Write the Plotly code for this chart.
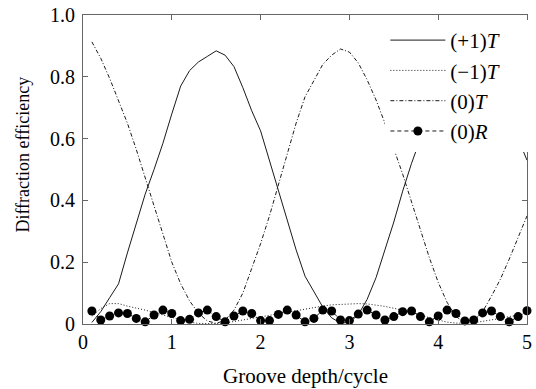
import plotly.graph_objects as go

depth = [round(0.1 * i, 1) for i in range(1, 51)]

t_plus1 = [0.005, 0.04, 0.085, 0.13, 0.23, 0.325, 0.42, 0.50, 0.585, 0.68,
           0.77, 0.82, 0.848, 0.866, 0.884, 0.87, 0.833, 0.765, 0.69, 0.625,
           0.53, 0.435, 0.34, 0.24, 0.155, 0.105, 0.055, 0.02, 0.003, 0.005,
           0.03, 0.08, 0.15, 0.24, 0.33, 0.43, 0.52, 0.60, 0.68, 0.75,
           0.81, 0.85, 0.87, 0.88, 0.86, 0.82, 0.75, 0.68, 0.60, 0.53]

t_minus1 = [0.025, 0.05, 0.066, 0.066, 0.058, 0.052, 0.045, 0.037, 0.029, 0.02,
            0.012, 0.006, 0.002, 0.001, 0.001, 0.003, 0.008, 0.013, 0.019, 0.025,
            0.03, 0.035, 0.04, 0.045, 0.05, 0.054, 0.058, 0.062, 0.064, 0.066,
            0.066, 0.065, 0.062, 0.057, 0.051, 0.044, 0.037, 0.03, 0.02, 0.012,
            0.006, 0.003, 0.002, 0.004, 0.008, 0.013, 0.018, 0.024, 0.029, 0.034]

t_zero = [0.913, 0.86, 0.795, 0.725, 0.65, 0.565, 0.475, 0.38, 0.29, 0.20,
          0.13, 0.075, 0.035, 0.01, 0.002, 0.012, 0.045, 0.10, 0.18, 0.26,
          0.35, 0.45, 0.55, 0.65, 0.735, 0.79, 0.84, 0.87, 0.89, 0.88,
          0.845, 0.79, 0.725, 0.65, 0.57, 0.485, 0.395, 0.305, 0.215, 0.135,
          0.07, 0.025, 0.003, 0.01, 0.04, 0.09, 0.145, 0.21, 0.28, 0.35]

r_zero = [0.042, 0.013, 0.026, 0.036, 0.034, 0.018, 0.007, 0.029, 0.045, 0.034,
          0.011, 0.015, 0.036, 0.045, 0.024, 0.007, 0.026, 0.042, 0.034, 0.011,
          0.011, 0.031, 0.045, 0.029, 0.007, 0.018, 0.045, 0.042, 0.013, 0.011,
          0.032, 0.045, 0.029, 0.013, 0.024, 0.040, 0.042, 0.024, 0.007, 0.026,
          0.045, 0.034, 0.010, 0.013, 0.036, 0.042, 0.024, 0.007, 0.024, 0.043]

x_ticks = [0, 1, 2, 3, 4, 5]
y_ticks = [0, 0.2, 0.4, 0.6, 0.8, 1.0]
y_tick_text = ["0", "0.2", "0.4", "0.6", "0.8", "1.0"]

FONT = "Liberation Serif"
LC = "#1a1a1a"
PAD = "&nbsp;" * 5

fig = go.Figure()
fig.add_trace(go.Scatter(x=depth, y=t_plus1, mode="lines", name="(+1)<i>T</i>" + PAD,
                         line=dict(color=LC, width=1)))
fig.add_trace(go.Scatter(x=depth, y=t_minus1, mode="lines", name="(\u22121)<i>T</i>",
                         line=dict(color=LC, width=1, dash="1px,2px")))
fig.add_trace(go.Scatter(x=depth, y=t_zero, mode="lines", name="(0)<i>T</i>",
                         line=dict(color=LC, width=1, dash="4px,2px,1px,2px")))
fig.add_trace(go.Scatter(x=depth, y=r_zero, mode="lines+markers", name="(0)<i>R</i>",
                         line=dict(color=LC, width=1, dash="4px,3px"),
                         marker=dict(color="black", size=9, symbol="circle"),
                         cliponaxis=False))

axis_common = dict(showline=True, linecolor="#666", linewidth=1, mirror="ticks",
                   ticks="inside", ticklen=5, tickcolor="#666", showgrid=False,
                   zeroline=False, tickfont=dict(family=FONT, size=20, color="black"))

fig.update_xaxes(range=[0, 5], tickvals=x_ticks, **axis_common)
fig.update_yaxes(range=[0, 1], tickvals=y_ticks, ticktext=y_tick_text,
                 ticklabelstandoff=3, **axis_common)

fig.add_annotation(text="Groove depth/cycle", xref="paper", yref="paper",
                   x=0.5, y=-0.212, xanchor="center", yanchor="bottom",
                   showarrow=False, font=dict(family=FONT, size=21, color="black"))
fig.add_annotation(text="Diffraction efficiency", xref="paper", yref="paper",
                   x=-0.136, y=0.547, xanchor="center", yanchor="middle",
                   textangle=-90, showarrow=False,
                   font=dict(family=FONT, size=18, color="black"))

fig.update_layout(
    width=536, height=389,
    margin=dict(l=83, r=4, t=13, b=65),
    plot_bgcolor="white", paper_bgcolor="white",
    font=dict(family=FONT, color="black"),
    legend=dict(x=0.681, y=0.984, xanchor="left", yanchor="top",
                bgcolor="white", borderwidth=0, itemwidth=55,
                font=dict(family=FONT, size=21, color="black"),
                tracegroupgap=14),
)

fig.write_html("out.html")
